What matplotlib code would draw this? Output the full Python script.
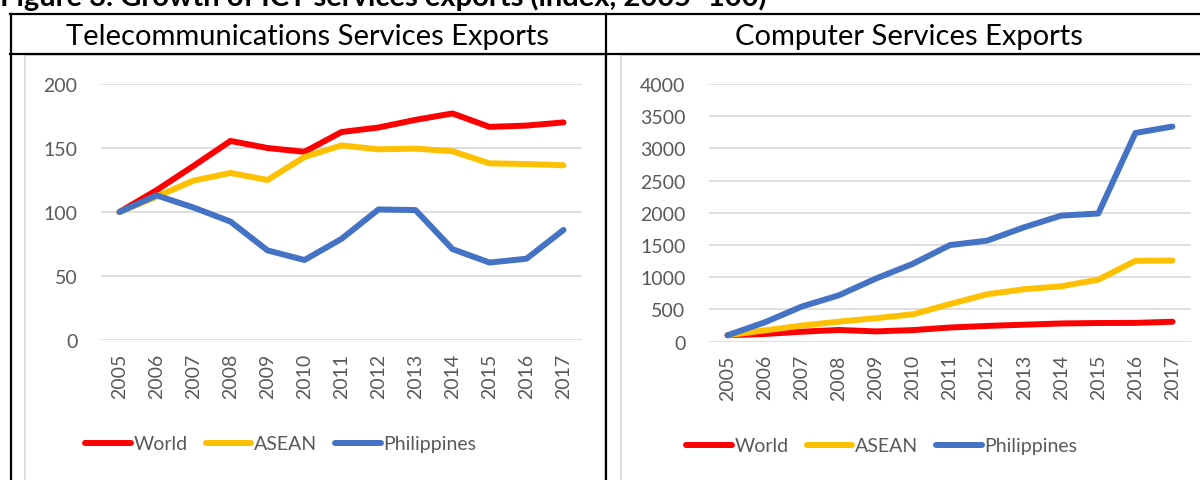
import matplotlib
matplotlib.use("Agg")
import matplotlib.pyplot as plt
from matplotlib.lines import Line2D
from matplotlib.patches import Rectangle

plt.rcParams['font.family'] = ['Lato', 'DejaVu Sans']

years = [str(y) for y in range(2005, 2018)]
series_names = ["World", "ASEAN", "Philippines"]
colors = ["#FF0000", "#FFC000", "#4472C4"]

telecom_world = [100, 117, 136, 155.5, 150, 147, 162.5, 166, 172, 177, 166.5, 167.5, 170]
telecom_asean = [100, 112, 124.5, 130.5, 125, 143, 152, 149, 149.5, 147.5, 138, 137.5, 136.5]
telecom_phil = [100, 113, 103.5, 92.5, 70, 62.5, 79, 102, 101.5, 71, 60.5, 63.5, 86]

computer_world = [100, 120, 155, 182, 160, 180, 220, 245, 264, 283, 290, 292, 310]
computer_asean = [100, 175, 250, 311, 365, 425, 585, 736, 815, 860, 963, 1255, 1260]
computer_phil = [100, 300, 545, 720, 980, 1210, 1500, 1568, 1776, 1957, 1990, 3240, 3340]

panel_titles = ["Telecommunications Services Exports", "Computer Services Exports"]
fig_title = "Figure 3. Growth of ICT services exports (index, 2005=100)"

W, H = 1200, 481
fig = plt.figure(figsize=(W / 100, H / 100), dpi=100)

def fx(x):
    return x / W

def fy(y):
    return 1 - y / H

# figure title (partially cut at top, as in the reference)
fig.text(fx(0), fy(6), fig_title, fontsize=21, fontweight='bold',
         ha='left', va='baseline', color='black')

# chart area borders (light gray)
for (x0, x1) in [(25, 605), (621, 1260)]:
    fig.add_artist(Rectangle((fx(x0), fy(600)), fx(x1) - fx(x0), fy(56) - fy(600),
                             transform=fig.transFigure, fill=False,
                             edgecolor='#d9d9d9', linewidth=1.2, zorder=0))

# table lines
tbl_kw = dict(transform=fig.transFigure, color='black', linewidth=1.6, zorder=5)
fig.add_artist(Line2D([fx(10), fx(1205)], [fy(15), fy(15)], **tbl_kw))
fig.add_artist(Line2D([fx(10), fx(1205)], [fy(55), fy(55)], **tbl_kw))
fig.add_artist(Line2D([fx(11), fx(11)], [fy(15), fy(490)], **tbl_kw))
fig.add_artist(Line2D([fx(606), fx(606)], [fy(15), fy(490)], **tbl_kw))

# panel titles
fig.text(fx(308), fy(37), panel_titles[0], fontsize=21, ha='center', va='center')
fig.text(fx(909), fy(37), panel_titles[1], fontsize=21, ha='center', va='center')

panels = [
    dict(rect=(101, 582, 85, 341), ylim=(0, 200), yticks=range(0, 201, 50),
         data=[telecom_world, telecom_asean, telecom_phil], legend_y=445, legend_x=281),
    dict(rect=(709, 1191, 85, 342.7), ylim=(0, 4000), yticks=range(0, 4001, 500),
         data=[computer_world, computer_asean, computer_phil], legend_y=447, legend_x=882),
]

x = list(range(len(years)))
for p in panels:
    x0, x1, ytop, ybot = p['rect']
    ax = fig.add_axes([fx(x0), fy(ybot), fx(x1) - fx(x0), fy(ytop) - fy(ybot)])
    ax.set_xlim(-0.5, len(years) - 0.5)
    ax.set_ylim(*p['ylim'])
    ax.set_yticks(list(p['yticks']))
    ax.set_xticks(x)
    ax.set_xticklabels(years, rotation=90)
    for s in ax.spines.values():
        s.set_visible(False)
    ax.grid(axis='y', color='#d9d9d9', linewidth=1.2)
    ax.set_axisbelow(True)
    ax.tick_params(axis='both', length=0, labelsize=14, labelcolor='#595959')
    ax.tick_params(axis='y', pad=17)
    ax.tick_params(axis='x', pad=9)
    handles = []
    for vals, name, c in zip(p['data'], series_names, colors):
        h, = ax.plot(x, vals, color=c, linewidth=4.3, solid_capstyle='round',
                     solid_joinstyle='round', label=name, clip_on=False)
        handles.append(h)
    leg = fig.legend(handles=handles, loc='center', ncol=3,
                     bbox_to_anchor=(fx(p['legend_x']), fy(p['legend_y'])),
                     bbox_transform=fig.transFigure, frameon=False,
                     fontsize=14, handlelength=2.35, handletextpad=0.15,
                     columnspacing=0.9, borderpad=0, borderaxespad=0)
    for t in leg.get_texts():
        t.set_color('#595959')

fig.savefig("out.png", dpi=100)
